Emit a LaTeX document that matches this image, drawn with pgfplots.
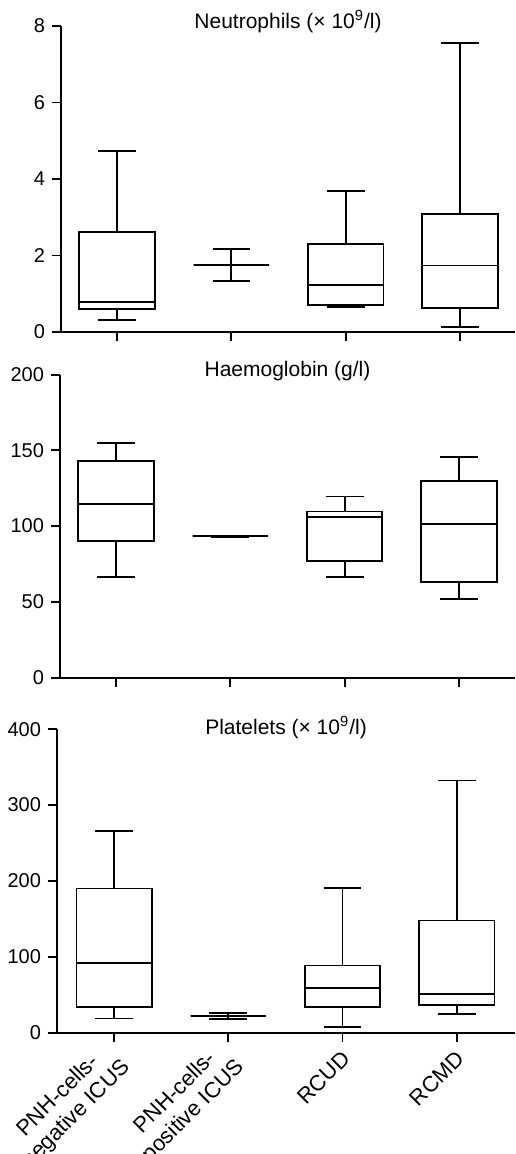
\documentclass[border=0pt]{standalone}
\usepackage{fontspec}
\setmainfont{Liberation Sans}
\usepackage{pgfplots}
\usepgfplotslibrary{statistics}
\pgfplotsset{compat=1.18}

\pgfplotsset{
  every axis title shift=0pt,
  panel/.style={
    scale only axis,
    anchor=south west,
    axis lines=left,
    axis line style={-, line width=0.9pt},
    tick style={black, line width=0.9pt},
    tick align=outside,
    major tick length=4.5pt,
    xtick={0,1,2,3},
    xticklabels={},
    ymin=0,
    clip=false,
    ticklabel style={font=\fontsize{10}{12}\selectfont},
    /pgf/number format/assume math mode=true,
    title style={at={(0.5,1)}, anchor=base, yshift=-1pt, font=\fontsize{10.5}{12}\selectfont},
    every axis plot/.append style={black, line width=0.9pt},
    boxplot/draw direction=y,
    boxplot/box extend=0.66,
    boxplot/whisker extend=0.33,
  }
}

\begin{document}
\begin{tikzpicture}
\useasboundingbox (0,0) rectangle (257.5pt,-577pt);

% neutrophils
\begin{axis}[panel,
    at={(30.5pt,-166pt)}, width=227pt, height=153pt,
    xmin=-0.49, xmax=3.48, ymax=8, ytick={0,2,4,6,8},
    title={Neutrophils (× 10\textsuperscript{9}/l)}]
\addplot[boxplot prepared={draw position=0, lower whisker=0.31, lower quartile=0.60, median=0.79, upper quartile=2.61, upper whisker=4.74}] coordinates {};
\addplot[boxplot prepared={draw position=1, lower whisker=1.33, lower quartile=1.75, median=1.75, upper quartile=1.75, upper whisker=2.18}] coordinates {};
\addplot[boxplot prepared={draw position=2, lower whisker=0.645, lower quartile=0.70, median=1.23, upper quartile=2.31, upper whisker=3.69}] coordinates {};
\addplot[boxplot prepared={draw position=3, lower whisker=0.14, lower quartile=0.62, median=1.74, upper quartile=3.09, upper whisker=7.55}] coordinates {};
\end{axis}

% haemoglobin
\begin{axis}[panel,
    at={(30pt,-338.8pt)}, width=227.5pt, height=151.5pt,
    xmin=-0.49, xmax=3.49, ymax=200, ytick={0,50,100,150,200},
    title={Haemoglobin (g/l)}]
\addplot[boxplot prepared={draw position=0, lower whisker=66.2, lower quartile=90.2, median=114.4, upper quartile=142.8, upper whisker=155.1}] coordinates {};
\addplot[boxplot prepared={draw position=1, lower whisker=93.0, lower quartile=93.4, median=93.4, upper quartile=93.4, upper whisker=93.8}] coordinates {};
\addplot[boxplot prepared={draw position=2, lower whisker=66.2, lower quartile=77.0, median=105.8, upper quartile=109.6, upper whisker=119.5}] coordinates {};
\addplot[boxplot prepared={draw position=3, lower whisker=52.1, lower quartile=62.9, median=101.6, upper quartile=129.6, upper whisker=145.7}] coordinates {};
\end{axis}

% platelets
\begin{axis}[panel,
    at={(28.5pt,-516.3pt)}, width=229pt, height=151.7pt,
    xmin=-0.5, xmax=3.51, ymax=400, ytick={0,100,200,300,400},
    title={Platelets (× 10\textsuperscript{9}/l)},
    title style={yshift=-1.5pt},
    xticklabels={{PNH-cells-\\negative ICUS},{PNH-cells-\\positive ICUS},RCUD,RCMD},
    xticklabel style={rotate=45, anchor=east, align=center, yshift=-6pt,
        font=\fontsize{11}{12.8}\selectfont}]
\addplot[boxplot prepared={draw position=0, lower whisker=18.5, lower quartile=33.8, median=91.4, upper quartile=189.9, upper whisker=265.9}] coordinates {};
\addplot[boxplot prepared={draw position=1, lower whisker=18, lower quartile=22, median=22, upper quartile=22, upper whisker=26}] coordinates {};
\addplot[boxplot prepared={draw position=2, lower whisker=7.5, lower quartile=33.8, median=59.3, upper quartile=88.4, upper whisker=190.8}] coordinates {};
\addplot[boxplot prepared={draw position=3, lower whisker=24.6, lower quartile=36.5, median=51.4, upper quartile=147.7, upper whisker=332.3}] coordinates {};
\end{axis}
\end{tikzpicture}
\end{document}
